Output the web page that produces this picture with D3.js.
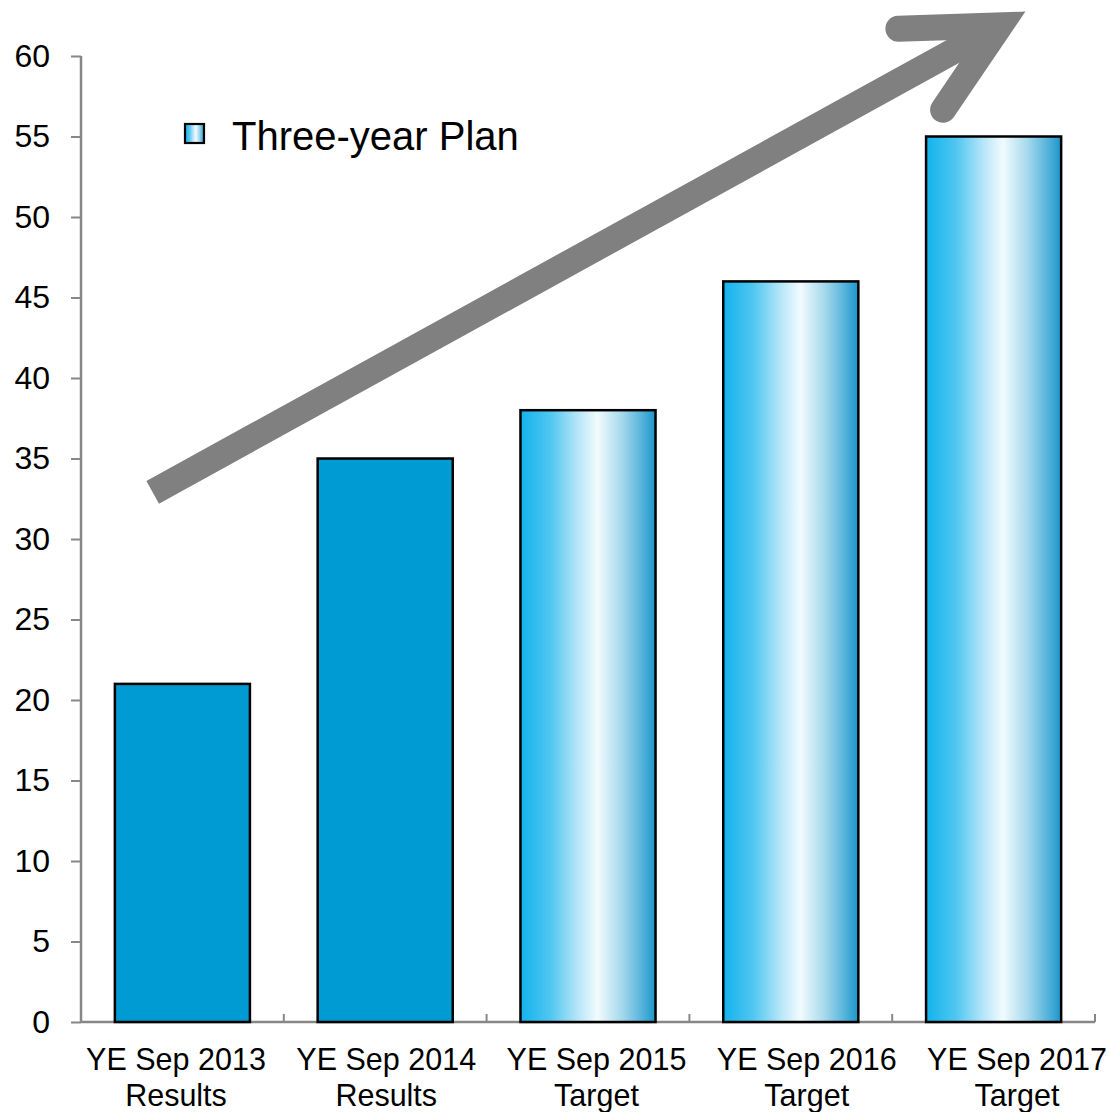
<!DOCTYPE html>
<html>
<head>
<meta charset="utf-8">
<script src="https://cdn.jsdelivr.net/npm/d3@7"></script>
<style>
  html, body { margin: 0; padding: 0; background: #ffffff; }
  svg { display: block; font-family: "Liberation Sans", Arial, sans-serif; }
</style>
</head>
<body>
<svg id="chart" width="1110" height="1112"></svg>
<script>
// Chart data
const categories = ["YE Sep 2013", "YE Sep 2014", "YE Sep 2015", "YE Sep 2016", "YE Sep 2017"];
const statuses   = ["Results", "Results", "Target", "Target", "Target"];
const values     = [21, 35, 38, 46, 55];
const yTicks     = [0, 5, 10, 15, 20, 25, 30, 35, 40, 45, 50, 55, 60];
const legendLabel = "Three-year Plan";

const svg = d3.select("#chart");
const plot = { left: 81, right: 1095, top: 56, bottom: 1022 };

const x = d3.scaleBand()
  .domain(categories)
  .range([plot.left, plot.right])
  .paddingInner(0.334)
  .paddingOuter(0.167);

// Category captions are spread slightly wider than the bars
const xLabel = d3.scalePoint()
  .domain(categories)
  .range([176, 1017]);

const y = d3.scaleLinear()
  .domain([0, 60])
  .range([plot.bottom, plot.top]);

// Horizontal cylinder-style gradient for target bars
const defs = svg.append("defs");
const grad = defs.append("linearGradient")
  .attr("id", "targetGrad")
  .attr("x1", "0%").attr("y1", "0%")
  .attr("x2", "100%").attr("y2", "0%");
[
  [0,    "#12b3ec"],
  [0.22, "#4fc6f0"],
  [0.42, "#b4e5f8"],
  [0.57, "#f2fbfe"],
  [0.75, "#a6d9ec"],
  [0.9,  "#55b3db"],
  [1,    "#1b96c8"]
].forEach(([o, c]) => grad.append("stop").attr("offset", o).attr("stop-color", c));

const solidFill = "#009bd2";
const axisColor = "#878787";

// Y axis
const yAxis = d3.axisLeft(y)
  .tickValues(yTicks)
  .tickSize(10)
  .tickPadding(21)
  .tickFormat(d3.format("d"));

const yG = svg.append("g")
  .attr("transform", `translate(${plot.left},0)`)
  .call(yAxis);
yG.select(".domain").remove();
yG.selectAll(".tick line").attr("stroke", axisColor).attr("stroke-width", 2);
yG.selectAll(".tick text")
  .attr("fill", "#000")
  .style("font-size", "32px")
  .style("font-family", "'Liberation Sans', Arial, sans-serif");
svg.append("line")
  .attr("x1", plot.left).attr("x2", plot.left)
  .attr("y1", y(60)).attr("y2", y(0))
  .attr("stroke", axisColor).attr("stroke-width", 2.5);

// X axis baseline with upward ticks at category boundaries
svg.append("line")
  .attr("x1", plot.left).attr("x2", plot.right)
  .attr("y1", y(0)).attr("y2", y(0))
  .attr("stroke", axisColor).attr("stroke-width", 2.5);
const step = x.step();
const boundaries = d3.range(categories.length + 1).map(i => plot.left + i * step);
svg.append("g").selectAll("line")
  .data(boundaries.slice(1))
  .join("line")
  .attr("x1", d => d).attr("x2", d => d)
  .attr("y1", y(0) - 8).attr("y2", y(0))
  .attr("stroke", axisColor).attr("stroke-width", 2);

// Bars
svg.append("g").selectAll("rect")
  .data(categories.map((c, i) => ({ c, v: values[i], s: statuses[i] })))
  .join("rect")
  .attr("x", d => x(d.c))
  .attr("y", d => y(d.v))
  .attr("width", x.bandwidth())
  .attr("height", d => y(0) - y(d.v))
  .attr("fill", d => d.s === "Target" ? "url(#targetGrad)" : solidFill)
  .attr("stroke", "#000")
  .attr("stroke-width", 2.5);

// Category labels (two lines)
const labG = svg.append("g")
  .attr("text-anchor", "middle")
  .style("font-size", "30.5px")
  .attr("fill", "#000");
categories.forEach((c, i) => {
  const cx = xLabel(c);
  labG.append("text").attr("x", cx).attr("y", 1070).text(c);
  labG.append("text").attr("x", cx).attr("y", 1106).text(statuses[i]);
});

// Legend
svg.append("rect")
  .attr("x", 185).attr("y", 124)
  .attr("width", 19).attr("height", 19)
  .attr("fill", "url(#targetGrad)")
  .attr("stroke", "#000").attr("stroke-width", 2.2);
svg.append("text")
  .attr("x", 232).attr("y", 150)
  .style("font-size", "40px")
  .attr("fill", "#000")
  .text(legendLabel);

// Growth arrow, anchored to the first and last bars
const tail = [x(categories[0]) + x.bandwidth() * 0.28, y(32.9)];
const head = [x(categories[4]) + x.bandwidth() * 0.55, y(61.9)];
const ang = Math.atan2(tail[1] - head[1], tail[0] - head[0]); // direction back toward tail
const spread = 27 * Math.PI / 180;
const armLen = 102;
const armA = [head[0] + armLen * Math.cos(ang + spread), head[1] + armLen * Math.sin(ang + spread)];
const armB = [head[0] + armLen * Math.cos(ang - spread), head[1] + armLen * Math.sin(ang - spread)];
const arrowColor = "#808080";
const arrowW = 26;

svg.append("line")
  .attr("x1", tail[0]).attr("y1", tail[1])
  .attr("x2", head[0]).attr("y2", head[1])
  .attr("stroke", arrowColor)
  .attr("stroke-width", arrowW)
  .attr("stroke-linecap", "butt");

svg.append("path")
  .attr("d", d3.line()([armA, head, armB]))
  .attr("fill", "none")
  .attr("stroke", arrowColor)
  .attr("stroke-width", arrowW)
  .attr("stroke-linejoin", "miter")
  .attr("stroke-miterlimit", 10)
  .attr("stroke-linecap", "round");
</script>
</body>
</html>
